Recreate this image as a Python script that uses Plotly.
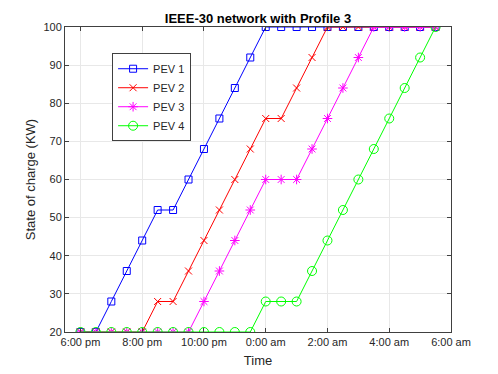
import plotly.graph_objects as go

# time in hours after midnight of day 1 (24 = 0:00 am next day)
hours = [18.0, 18.5, 19.0, 19.5, 20.0, 20.5, 21.0, 21.5, 22.0, 22.5, 23.0, 23.5,
         24.0, 24.5, 25.0, 25.5, 26.0, 26.5, 27.0, 27.5, 28.0, 28.5, 29.0, 29.5]

pev1 = [20, 20, 28, 36, 44, 52, 52, 60, 68, 76, 84, 92,
        100, 100, 100, 100, 100, 100, 100, 100, 100, 100, 100, 100]
pev2 = [20, 20, 20, 20, 20, 28, 28, 36, 44, 52, 60, 68,
        76, 76, 84, 92, 100, 100, 100, 100, 100, 100, 100, 100]
pev3 = [20, 20, 20, 20, 20, 20, 20, 20, 28, 36, 44, 52,
        60, 60, 60, 68, 76, 84, 92, 100, 100, 100, 100, 100]
pev4 = [20, 20, 20, 20, 20, 20, 20, 20, 20, 20, 20, 20,
        28, 28, 28, 36, 44, 52, 60, 68, 76, 84, 92, 100]

tick_hours = [18, 20, 22, 24, 26, 28, 30]
tick_text = ["6:00 pm", "8:00 pm", "10:00 pm", "0:00 am", "2:00 am", "4:00 am", "6:00 am"]
y_ticks = [20, 30, 40, 50, 60, 70, 80, 90, 100]

series = [
    ("PEV 1", pev1, "#0000ff", "square-open", 7),
    ("PEV 2", pev2, "#ff0000", "x-thin-open", 7),
    ("PEV 3", pev3, "#ff00ff", "asterisk-open", 8),
    ("PEV 4", pev4, "#00ff00", "circle-open", 9),
]

fig = go.Figure()
for name, vals, color, symbol, size in series:
    fig.add_trace(go.Scatter(
        x=hours, y=vals, name=name, mode="lines+markers",
        line=dict(color=color, width=1),
        marker=dict(symbol=symbol, size=size, color=color, line=dict(color=color, width=1)),
    ))

axis_common = dict(
    showline=True, linecolor="#404040", linewidth=1, mirror="ticks",
    ticks="inside", ticklen=4, tickcolor="#404040",
    showgrid=True, gridcolor="#e8e8e8", gridwidth=1, zeroline=False,
    tickfont=dict(size=11, color="#262626"),
)

# the page body adds an 8px offset, margins below account for it
fig.update_layout(
    width=498, height=374,
    margin=dict(l=57, r=55, t=19, b=50),
    paper_bgcolor="white", plot_bgcolor="white",
    font=dict(family="Liberation Sans, Arial, sans-serif", size=11, color="#262626"),
    title=dict(text="<b>IEEE-30 network with Profile 3</b>", x=0.5, xref="paper",
               y=0.972, yref="container", xanchor="center", yanchor="middle",
               font=dict(size=13, color="#000000")),
    xaxis=dict(range=[17.5, 30], tickvals=tick_hours, ticktext=tick_text,
               title=dict(text="Time", standoff=8), **axis_common),
    yaxis=dict(range=[20, 100], tickvals=y_ticks,
               title=dict(text="State of charge (KW)", standoff=4), **axis_common),
    legend=dict(x=0.122, y=0.914, xanchor="left", yanchor="top",
                bgcolor="white", bordercolor="#404040", borderwidth=1,
                font=dict(size=11), itemwidth=30, tracegroupgap=0),
    showlegend=True,
)

fig.write_html("out.html")
